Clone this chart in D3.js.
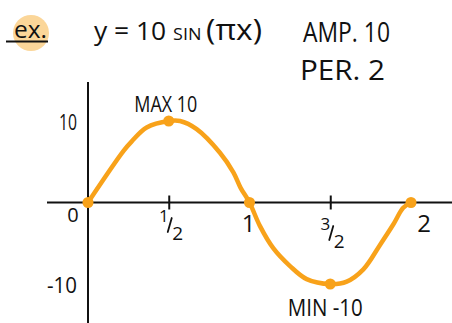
<!DOCTYPE html>
<html>
<head>
<meta charset="utf-8">
<script src="https://cdn.jsdelivr.net/npm/d3@7"></script>
<style>
  html, body { margin: 0; padding: 0; background: #fff; }
  svg { display: block; }
  text { font-family: "Open Sans", "DejaVu Sans", sans-serif; fill: #111; }
</style>
</head>
<body>
<svg id="chart" width="452" height="323"></svg>
<script>
// Hand-traced points along the curve y = 10 sin(πx)
const curveX = [0, 0.219, 0.271, 0.363, 0.5, 0.57, 0.673, 0.817, 0.9, 0.945, 1,
                1.065, 1.147, 1.251, 1.354, 1.5, 1.602, 1.705, 1.808, 1.89, 1.952, 2];
const curveY = [0, 6.3, 7.5, 9.2, 10, 10, 9.0, 6.1, 3.7, 1.8, 0,
                -2.9, -5.6, -7.8, -9.4, -10, -9.7, -8.2, -5.2, -2.7, -0.65, 0];

// Key points marked with dots
const keyX = [0, 0.5, 1, 1.5, 2];
const keyY = [0, 10, 0, -10, 0];

// Axis labels
const xTickValues = [0.5, 1.5];
const xLabels = ["0", "1/2", "1", "3/2", "2"];
const xLabelValues = [0, 0.5, 1, 1.5, 2];
const yLabelValues = [10, -10];

const svg = d3.select("#chart");
const orange = "#F8A21A";
const ink = "#111";

const x = d3.scaleLinear().domain([0, 2]).range([88, 411]);
const y = d3.scaleLinear().domain([-10, 10]).range([284, 121]);

// Text helper: fixed width so the lettering keeps its narrow, tall look
function label(txt, px, py, size, width, anchor) {
  const t = svg.append("text").attr("x", px).attr("y", py)
    .attr("font-size", size).text(txt);
  if (anchor) t.attr("text-anchor", anchor);
  if (width) t.attr("textLength", width).attr("lengthAdjust", "spacingAndGlyphs");
  return t;
}

// Header: "ex." badge
svg.append("circle").attr("cx", 31).attr("cy", 33).attr("r", 18).attr("fill", "#FBD699");
label("ex.", 14, 38, 24, 33);
svg.append("line").attr("x1", 6).attr("x2", 48).attr("y1", 41.5).attr("y2", 41.5)
  .attr("stroke", ink).attr("stroke-width", 1.8);

// Equation and properties
const eq = svg.append("text").attr("x", 94).attr("y", 40).attr("font-size", 25)
  .attr("textLength", 168).attr("lengthAdjust", "spacingAndGlyphs");
eq.append("tspan").text("y = 10 ");
eq.append("tspan").attr("font-size", 17).text("SIN ");
eq.append("tspan").attr("font-size", 30).text("(πx)");

label("AMP. 10", 303, 42, 27, 87);
label("PER. 2", 300, 80, 27, 85);

// Axes
svg.append("line")
  .attr("x1", 47).attr("x2", 452).attr("y1", y(0)).attr("y2", y(0))
  .attr("stroke", ink).attr("stroke-width", 2);
svg.append("line")
  .attr("x1", x(0)).attr("x2", x(0)).attr("y1", 82).attr("y2", 323)
  .attr("stroke", ink).attr("stroke-width", 2);

// Tick marks at the half-periods
const xAxis = d3.axisBottom(x).tickValues(xTickValues).tickSize(14).tickFormat("");
const gx = svg.append("g").attr("transform", `translate(0,${y(0) - 7})`).call(xAxis);
gx.select(".domain").remove();
gx.selectAll(".tick line").attr("stroke", ink).attr("stroke-width", 2);

// X labels; fractions are drawn as a slanted numerator / denominator
xLabels.forEach((s, i) => {
  const px = x(xLabelValues[i]);
  const parts = s.split("/");
  if (parts.length === 2) {
    const dy = xLabelValues[i] === 1.5 ? 8 : 0;
    const dx = xLabelValues[i] === 1.5 ? -5 : -5;
    label(parts[0], px + dx, 222 + dy, 17, null, "middle");
    svg.append("line")
      .attr("x1", px + dx + 4).attr("y1", 232 + dy)
      .attr("x2", px + dx + 8).attr("y2", 218 + dy)
      .attr("stroke", ink).attr("stroke-width", 1.8).attr("stroke-linecap", "round");
    label(parts[1], px + dx + 14, 240 + dy, 19, null, "middle");
  } else if (xLabelValues[i] === 0) {
    label(s, px - 15, 222, 20, null, "middle");
  } else {
    label(s, px + (xLabelValues[i] === 2 ? 13 : -1), 232, 24, null, "middle");
  }
});

// Y labels
yLabelValues.forEach(v => {
  const s = v > 0 ? String(v) : "-" + Math.abs(v);
  label(s, 77, y(v) + 9, 22, v > 0 ? 18 : 30, "end");
});

// Curve
const pts = curveX.map((d, i) => [d, curveY[i]]);
const line = d3.line().x(d => x(d[0])).y(d => y(d[1])).curve(d3.curveCatmullRom.alpha(0.5));
svg.append("path").datum(pts).attr("d", line)
  .attr("fill", "none").attr("stroke", orange).attr("stroke-width", 4.5)
  .attr("stroke-linecap", "round").attr("stroke-linejoin", "round");

// Dots
svg.selectAll(".dot").data(keyX.map((d, i) => [d, keyY[i]])).enter()
  .append("circle").attr("class", "dot")
  .attr("cx", d => x(d[0])).attr("cy", d => y(d[1])).attr("r", 5.5)
  .attr("fill", orange);

// Extremum annotations
label("MAX 10", x(0.5) - 3, y(10) - 9, 21, 63, "middle");
label("MIN -10", x(1.5) - 5, y(-10) + 32, 23, 75, "middle");
</script>
</body>
</html>
